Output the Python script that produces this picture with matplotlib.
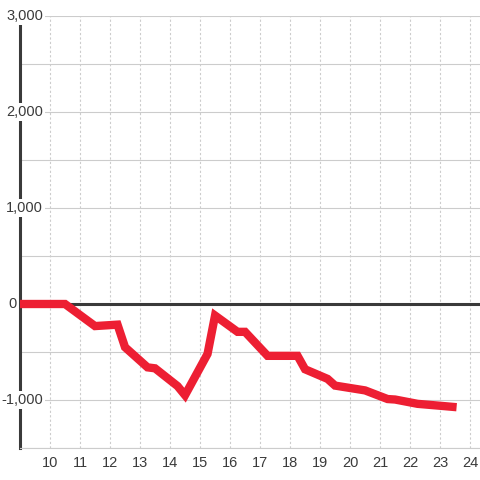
import matplotlib
matplotlib.use("Agg")
import matplotlib.pyplot as plt
import matplotlib.transforms as mtransforms

# --- Data ---
hours = [9, 10.5, 11.5, 12.25, 12.5, 13.25, 13.5, 14.25, 14.5, 15.25, 15.5,
         16.25, 16.5, 17.25, 18.25, 18.5, 19.25, 19.5, 20.5, 21.25, 21.5,
         22.25, 23.0, 23.55]
values = [0, 0, -230, -215, -450, -660, -670, -855, -950, -520, -120,
          -290, -290, -540, -540, -680, -780, -850, -900, -990, -995,
          -1040, -1060, -1075]
x_ticks = list(range(10, 25))
y_labels = [3000, 2000, 1000, 0, -1000]
y_grid = list(range(-1500, 3001, 500))

TEXT = "#3a3a3a"
GRID = "#cccccc"
RED = "#ED1F33"

plt.rcParams["font.family"] = ["Liberation Sans", "DejaVu Sans"]

fig = plt.figure(figsize=(4.8, 4.8), dpi=100)
ax = fig.add_axes([20 / 480, 32 / 480, 460 / 480, 432 / 480])
ax.set_xlim(9, 24.33)
ax.set_ylim(-1500, 3000)

# grid
ax.set_axisbelow(True)
ax.set_yticks(y_grid)
ax.set_yticklabels([])
ax.yaxis.grid(True, color=GRID, lw=0.8)
ax.set_xticks(x_ticks)
ax.xaxis.grid(True, color=GRID, lw=0.8, ls=(0, (2, 2)))
ax.tick_params(axis="both", length=0)
ax.tick_params(axis="x", labelsize=10.5, labelcolor=TEXT, pad=5.5)

for side in ("top", "right"):
    ax.spines[side].set_visible(False)
ax.spines["bottom"].set_color(GRID)
ax.spines["bottom"].set_linewidth(0.8)
ax.spines["left"].set_color(TEXT)
ax.spines["left"].set_linewidth(2.2)

# y labels with white background over the axis line
trans = mtransforms.blended_transform_factory(ax.transAxes, ax.transData)
for v in y_labels:
    xpos = 0.05 if v != 0 else -0.008
    ax.text(xpos, v, f"{v:,}", transform=trans, ha="right", va="center",
            fontsize=10.5, color=TEXT, zorder=3,
            bbox=dict(facecolor="white", edgecolor="none", pad=1.5))

ax.axhline(0, color=TEXT, lw=2.2, zorder=3)
ax.plot(hours, values, color=RED, lw=6, solid_capstyle="butt",
        solid_joinstyle="miter", zorder=4, clip_on=False)

fig.savefig("out.png", dpi=100, facecolor="white")
